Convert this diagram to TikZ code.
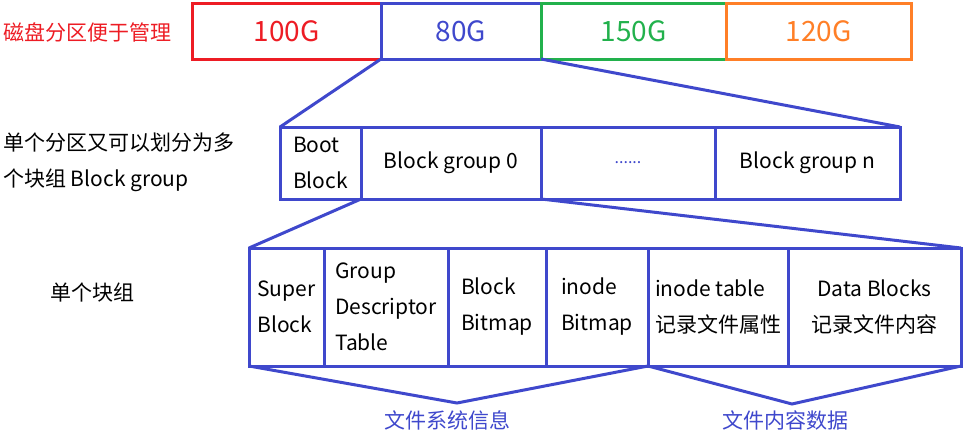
\documentclass[tikz,border=0pt]{standalone}
\usepackage{fontspec}
\setmainfont{Noto Sans CJK SC}
\usepackage{tikz}
\usetikzlibrary{positioning}
\definecolor{pred}{RGB}{237,28,36}
\definecolor{pblue}{RGB}{63,72,204}
\definecolor{pgreen}{RGB}{34,177,76}
\definecolor{porange}{RGB}{255,127,39}
\tikzset{
  part/.style={rectangle, draw=#1, text=#1, line width=3pt, anchor=north west,
    minimum height=56pt, inner sep=0pt, outer sep=0pt,
    font=\fontsize{28}{32}\selectfont},
  bgbox/.style={rectangle, draw=pblue, line width=3pt, anchor=north west,
    minimum height=72pt, inner sep=0pt, outer sep=0pt, align=left,
    font=\fontsize{21}{36}\selectfont},
  cell/.style={rectangle, draw=pblue, line width=3pt, anchor=north west,
    minimum height=118pt, inner sep=0pt, outer sep=0pt, align=left,
    font=\fontsize{21}{36}\selectfont},
  note/.style={anchor=west, align=left, inner sep=0pt,
    font=\fontsize{21}{36}\selectfont},
  tag/.style={text=pblue, inner sep=0pt, font=\fontsize{21}{24}\selectfont},
  funnel/.style={draw=pblue, line width=3pt}
}
\begin{document}
\begin{tikzpicture}[x=1pt, y=-1pt]
  \useasboundingbox (0,0) rectangle (966,439);
  % disk partitions
  \node[note, text=pred] (title) at (3,32) {磁盘分区便于管理};
  \node[part=pred, minimum width=189pt] (p100) at (192,3) {100G};
  \node[part=pblue, minimum width=160pt, right=0pt of p100] (p80) {80G};
  \node[part=pgreen, minimum width=185pt, right=0pt of p80] (p150) {150G};
  \node[part=porange, minimum width=185pt, right=0pt of p150] (p120) {120G};
  % block groups of one partition
  \node[note] (grpnote) at (3,162) {单个分区又可以划分为多\\个块组 Block group};
  \node[bgbox, minimum width=81pt] (boot) at (280,127) {Boot\\Block};
  \node[bgbox, align=center, minimum width=180pt, right=0pt of boot] (bg0) {Block group 0};
  \node[bgbox, align=center, minimum width=174pt, right=0pt of bg0, text=pblue,
    font=\fontsize{16}{18}\selectfont] (more) {......};
  \node[bgbox, align=center, minimum width=185pt, right=0pt of more] (bgn) {Block group n};
  \draw[funnel] (p80.south west) -- (boot.north west);
  \draw[funnel] (p80.south east) -- (bgn.north east);
  % inside one block group
  \node[note] (cellnote) at (50,293) {单个块组};
  \node[cell, minimum width=75pt] (super) at (249,248) {Super\\Block};
  \node[cell, minimum width=124pt, right=0pt of super] (gdt) {Group\\Descriptor\\Table};
  \node[cell, minimum width=98pt, right=0pt of gdt] (bbmp) {Block\\Bitmap};
  \node[cell, minimum width=102pt, right=0pt of bbmp] (ibmp) {inode\\Bitmap};
  \node[cell, minimum width=140pt, right=0pt of ibmp] (itab) {inode table\\记录文件属性};
  \node[cell, align=center, minimum width=173pt, right=0pt of itab] (data) {Data Blocks\\记录文件内容};
  \draw[funnel] (boot.south east) -- (super.north west);
  \draw[funnel] (bg0.south east) -- (data.north east);
  % groupings
  \coordinate (fstip) at (457,403);
  \coordinate (datatip) at (792,404);
  \draw[funnel] (super.south west) -- (fstip) -- (ibmp.south east);
  \draw[funnel] (itab.south west) -- (datatip) -- (data.south east);
  \node[tag] (fsinfo) at (447,420) {文件系统信息};
  \node[tag] (content) at (785,420) {文件内容数据};
\end{tikzpicture}
\end{document}
